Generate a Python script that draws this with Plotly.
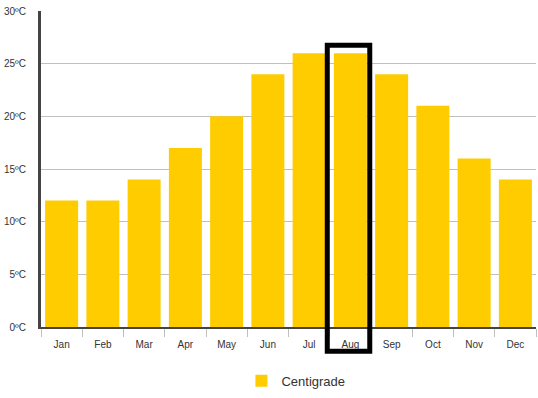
import plotly.graph_objects as go

months = ["Jan", "Feb", "Mar", "Apr", "May", "Jun", "Jul", "Aug", "Sep", "Oct", "Nov", "Dec"]
centigrade = [12, 12, 14, 17, 20, 24, 26, 26, 24, 21, 16, 14]
y_ticks = [0, 5, 10, 15, 20, 25, 30]
y_labels = [f"{v}ºC" for v in y_ticks]
highlight = "Aug"
y_max = 30

fig = go.Figure()
fig.add_trace(go.Bar(
    x=months, y=centigrade, name="Centigrade",
    marker=dict(color="#FFCC00", line=dict(width=0)),
    hoverinfo="skip",
))

# highlight box around the selected month (category axis spans [-0.5, n-0.5])
hi = months.index(highlight)
n = len(months)
fig.add_shape(type="rect", xref="x domain", yref="y domain",
              x0=(hi - 0.56 + 0.5) / n, x1=(hi + 0.47 + 0.5) / n,
              y0=-2.3 / y_max, y1=26.75 / y_max,
              line=dict(color="black", width=5), fillcolor="rgba(0,0,0,0)")

fig.update_layout(
    width=538, height=398,
    margin=dict(l=41, r=2, t=11, b=68),
    paper_bgcolor="white", plot_bgcolor="white",
    bargap=0.2,
    font=dict(family="Liberation Sans, Arial, sans-serif", size=10, color="#333"),
    showlegend=True,
    legend=dict(orientation="h", x=0.515, xanchor="center", y=-0.17, yanchor="middle",
                font=dict(size=13, color="#333")),
    xaxis=dict(
        type="category", showgrid=False, automargin=False,
        showline=True, linecolor="#444", linewidth=2,
        ticks="outside", tickson="boundaries", ticklen=8, tickcolor="#C0C0C0",
        ticklabelstandoff=7,
        tickfont=dict(size=10, color="#333"),
        fixedrange=True,
    ),
    yaxis=dict(
        range=[0, y_max], tickvals=y_ticks, ticktext=y_labels, automargin=False,
        showgrid=True, gridcolor="#C0C0C0", gridwidth=1,
        showline=True, linecolor="#444", linewidth=3,
        ticks="", ticklabelstandoff=10,
        tickfont=dict(size=10, color="#333"),
        zeroline=False, fixedrange=True,
    ),
)

fig.write_html("out.html", config={"displayModeBar": False},
               post_script="document.body.style.margin='0';")
